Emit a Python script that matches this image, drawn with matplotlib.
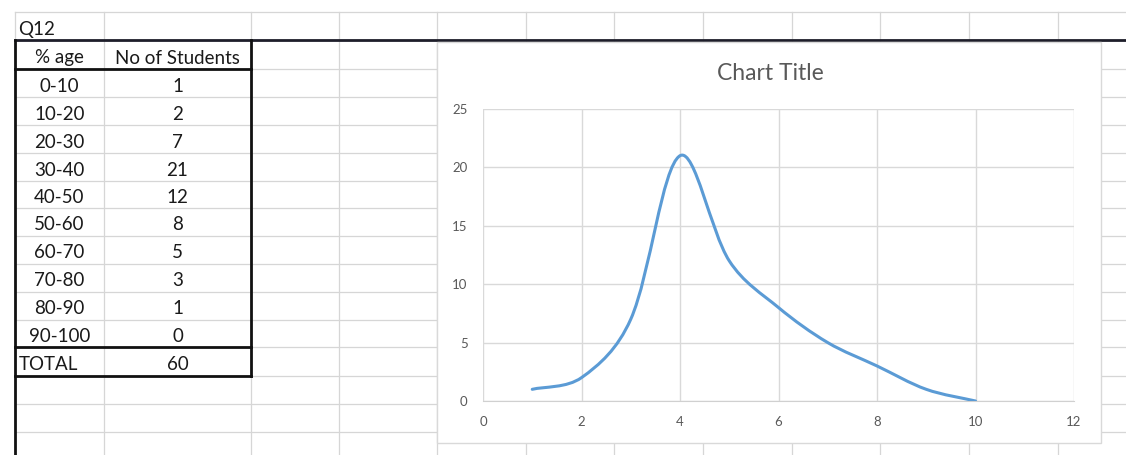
import numpy as np
import matplotlib
matplotlib.use("Agg")
import matplotlib.pyplot as plt
from matplotlib.path import Path
from matplotlib.patches import PathPatch, Rectangle

# ---------------- data ----------------
ranges = ["0-10", "10-20", "20-30", "30-40", "40-50", "50-60",
          "60-70", "70-80", "80-90", "90-100"]
students = [1, 2, 7, 21, 12, 8, 5, 3, 1, 0]
x_index = [1, 2, 3, 4, 5, 6, 7, 8, 9, 10]
header = ["% age", "No of Students"]
sheet_label = "Q12"
total_label = "TOTAL"
chart_title = "Chart Title"
xticks = [0, 2, 4, 6, 8, 10, 12]
yticks = [0, 5, 10, 15, 20, 25]

W, H = 1126, 455
FONT = "Lato"
GRID = "#d6d6d6"

fig = plt.figure(figsize=(W / 100, H / 100), dpi=100)
bg = fig.add_axes([0, 0, 1, 1])
bg.set_xlim(0, W)
bg.set_ylim(H, 0)
bg.axis("off")

# spreadsheet grid
col_edges = [15, 104, 251, 339, 437, 526, 614, 703, 792, 880, 969, 1058]
row_edges = [12, 40, 69, 97, 125, 153, 181, 208, 236, 264, 292, 320, 347, 376, 404, 432]
for x in col_edges[1:]:
    bg.plot([x, x], [12, H], color=GRID, lw=0.9, zorder=1)
bg.plot([15, 15], [12, 40], color=GRID, lw=0.9, zorder=1)
for y in row_edges:
    bg.plot([15, W], [y, y], color=GRID, lw=0.9, zorder=1)

# thick borders
bg.plot([15, W], [40, 40], color="#1e1e2a", lw=2.0, zorder=3)
bg.plot([15, 15], [40, H], color="#111111", lw=2.0, zorder=3)
bg.plot([251, 251], [40, 376], color="#111111", lw=2.0, zorder=3)
for y in [69, 347, 376]:
    bg.plot([15, 251], [y, y], color="#111111", lw=2.0, zorder=3)

# table text
tc = "#1a1a1a"
fs = 13.5
dy = 3
bg.text(18, 27 + dy, sheet_label, ha="left", va="center", fontsize=fs, color=tc, family=FONT)
bg.text(59.5, 55 + dy, header[0], ha="center", va="center", fontsize=fs, color=tc, family=FONT)
bg.text(177.5, 55 + dy, header[1], ha="center", va="center", fontsize=fs, color=tc, family=FONT)
for i, (r, s) in enumerate(zip(ranges, students)):
    yc = (row_edges[i + 2] + row_edges[i + 3]) / 2 + dy
    bg.text(59.5, yc, r, ha="center", va="center", fontsize=fs, color=tc, family=FONT)
    bg.text(177.5, yc, str(s), ha="center", va="center", fontsize=fs, color=tc, family=FONT)
yc = (row_edges[12] + row_edges[13]) / 2 + dy
bg.text(19, yc, total_label, ha="left", va="center", fontsize=fs, color=tc, family=FONT)
bg.text(177.5, yc, str(sum(students)), ha="center", va="center", fontsize=fs, color=tc, family=FONT)

# chart area
bg.add_patch(Rectangle((437, 42), 664, 401, facecolor="white", edgecolor="#d9d9d9",
                       lw=1.0, zorder=5))
bg.text(770, 74, chart_title, ha="center", va="center", fontsize=16.5,
        color="#595959", family=FONT, zorder=6)

# plot area
L, R, T, B = 483, 1074, 109, 401
ax = fig.add_axes([L / W, (H - B) / H, (R - L) / W, (B - T) / H])
ax.set_xlim(0, 12)
ax.set_ylim(0, 25)
ax.set_xticks(xticks)
ax.set_yticks(yticks)
ax.grid(True, color="#d9d9d9", lw=1.0)
ax.set_axisbelow(True)
for s in ["top", "right", "left"]:
    ax.spines[s].set_visible(False)
ax.spines["bottom"].set_color("#d0d0d0")
ax.tick_params(length=0, labelsize=9.5, labelcolor="#595959", pad=11)
for lab in ax.get_xticklabels() + ax.get_yticklabels():
    lab.set_family(FONT)

# smoothed line (Excel style bezier through data points)
sx, sy = (R - L) / 12, (B - T) / 25
P = np.column_stack([np.array(x_index, float) * sx, np.array(students, float) * sy])
n = len(P)
f = 1 / 3
verts = [P[0]]
codes = [Path.MOVETO]
def ctrl(i):
    p0 = P[max(i - 1, 0)]
    p2 = P[min(i + 1, n - 1)]
    d01 = np.linalg.norm(P[i] - p0)
    d12 = np.linalg.norm(p2 - P[i])
    tot = d01 + d12
    tan = p2 - p0
    wb = 0.5 * (d01 / tot) + 0.25
    wa = 0.5 * (d12 / tot) + 0.25
    before = P[i] - f * wb * tan
    after = P[i] + f * wa * tan
    return before, after
for i in range(n - 1):
    _, a = ctrl(i)
    b, _ = ctrl(i + 1)
    verts += [a, b, P[i + 1]]
    codes += [Path.CURVE4] * 3
verts = np.array(verts) / np.array([sx, sy])
ax.add_patch(PathPatch(Path(verts, codes), facecolor="none", edgecolor="#5b9bd5",
                       lw=2.2, capstyle="round", joinstyle="round", zorder=3))

fig.savefig("out.png", dpi=100)
